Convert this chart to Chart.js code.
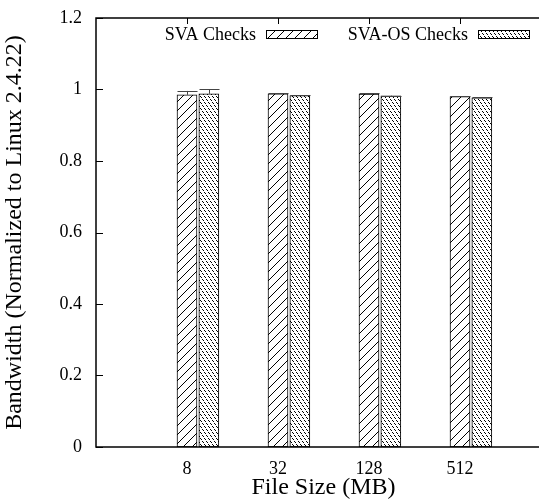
<!DOCTYPE html>
<html>
<head>
<meta charset="utf-8">
<script src="https://cdn.jsdelivr.net/npm/chart.js@4"></script>
<style>
  html, body { margin: 0; padding: 0; background: #fff; overflow: hidden; }
  #wrap { width: 560px; height: 502px; }
</style>
</head>
<body>
<div id="wrap"><canvas id="myChart" width="560" height="502"></canvas></div>
<script>
// data
var sizes = ['8', '32', '128', '512'];
var svaChecks = [0.985, 0.988, 0.987, 0.980];
var svaChecksErr = [0.011, 0.002, 0.002, 0.001];
var svaOsChecks = [0.988, 0.983, 0.982, 0.977];
var svaOsChecksErr = [0.012, 0.001, 0.001, 0.001];
var yTicks = [0, 0.2, 0.4, 0.6, 0.8, 1, 1.2];

var FONT = '"Liberation Serif", "DejaVu Serif", serif';

function hatch() {
    var c = document.createElement('canvas');
    c.width = 9; c.height = 9;
    var g = c.getContext('2d');
    g.fillStyle = '#fff';
    g.fillRect(0, 0, 9, 9);
    g.strokeStyle = '#000';
    g.lineWidth = 1;
    g.beginPath();
    g.moveTo(-1, 10); g.lineTo(10, -1);
    g.moveTo(-1, 1); g.lineTo(1, -1);
    g.moveTo(8, 10); g.lineTo(10, 8);
    g.stroke();
    return g.createPattern(c, 'repeat');
}

function dots() {
    var c = document.createElement('canvas');
    c.width = 4; c.height = 6;
    var g = c.getContext('2d');
    g.fillStyle = '#fff';
    g.fillRect(0, 0, 4, 6);
    g.fillStyle = '#000';
    g.fillRect(0, 0, 1, 1);
    g.fillRect(1, 1, 1, 1);
    g.fillRect(2, 3, 1, 1);
    g.fillRect(3, 4, 1, 1);
    return g.createPattern(c, 'repeat');
}

var pat1 = hatch();
var pat2 = dots();

function pts(vals, off) {
    return vals.map(function(v, i) { return { x: i + off, y: v }; });
}

var frame = {
    id: 'frame',
    afterDraw: function(chart) {
        var ctx = chart.ctx, a = chart.chartArea;
        var xs = chart.scales.x, ys = chart.scales.y;
        ctx.save();
        ctx.strokeStyle = '#000';
        ctx.lineWidth = 1.5;
        ctx.strokeRect(a.left, a.top, a.right - a.left, a.bottom - a.top);
        ctx.lineWidth = 1;
        // inward ticks
        ctx.beginPath();
        yTicks.forEach(function(t) {
            var y = Math.round(ys.getPixelForValue(t)) + 0.5;
            ctx.moveTo(a.left, y); ctx.lineTo(a.left + 7, y);
        });
        sizes.forEach(function(s, i) {
            var x = Math.round(xs.getPixelForValue(i)) + 0.5;
            ctx.moveTo(x, a.top); ctx.lineTo(x, a.top + 6);
        });
        ctx.stroke();

        // error bars
        ctx.strokeStyle = '#444';
        [[0, svaChecksErr], [1, svaOsChecksErr]].forEach(function(p) {
            var meta = chart.getDatasetMeta(p[0]);
            meta.data.forEach(function(bar, i) {
                var v = chart.data.datasets[p[0]].data[i].y;
                var yt = ys.getPixelForValue(v + p[1][i]);
                var x = Math.round(bar.x) + 0.5;
                ctx.beginPath();
                ctx.moveTo(x, bar.y); ctx.lineTo(x, yt);
                ctx.moveTo(x - 10, Math.round(yt) + 0.5); ctx.lineTo(x + 10, Math.round(yt) + 0.5);
                ctx.stroke();
            });
        });

        // key
        ctx.font = '18px ' + FONT;
        ctx.textAlign = 'right';
        ctx.textBaseline = 'middle';
        var keys = [['SVA Checks', pat1, 266], ['SVA-OS Checks', pat2, 478]];
        keys.forEach(function(k) {
            ctx.fillStyle = '#000';
            ctx.fillText(k[0], k[2] - 10, 35);
            ctx.fillStyle = k[1];
            ctx.fillRect(k[2], 30, 51, 8);
            ctx.strokeStyle = '#000';
            ctx.strokeRect(k[2] + 0.5, 30.5, 51, 8);
        });
        ctx.restore();
    }
};

var ctx = document.getElementById('myChart').getContext('2d');

new Chart(ctx, {
    type: 'bar',
    data: {
        datasets: [{
            label: 'SVA Checks',
            data: pts(svaChecks, 0),
            backgroundColor: pat1,
            borderColor: '#000',
            borderWidth: 1,
            borderSkipped: false,
            barThickness: 20
        }, {
            label: 'SVA-OS Checks',
            data: pts(svaOsChecks, 0.24),
            backgroundColor: pat2,
            borderColor: '#000',
            borderWidth: 1,
            borderSkipped: false,
            barThickness: 20
        }]
    },
    options: {
        responsive: false,
        animation: false,
        grouped: false,
        layout: { padding: { top: 18, right: 9, left: 0, bottom: 0 } },
        plugins: { legend: { display: false }, tooltip: { enabled: false } },
        scales: {
            x: {
                type: 'linear',
                min: -1,
                max: 4,
                offset: false,
                grid: { display: false, offset: false },
                border: { display: false },
                afterBuildTicks: function(axis) {
                    axis.ticks = sizes.map(function(s, i) { return { value: i }; });
                },
                afterFit: function(axis) { axis.height = 55; },
                ticks: {
                    color: '#000',
                    font: { family: FONT, size: 18 },
                    padding: 3,
                    maxRotation: 0,
                    callback: function(v) { return sizes[v]; }
                },
                title: {
                    display: true,
                    text: 'File Size (MB)',
                    color: '#000',
                    font: { family: FONT, size: 24 },
                    padding: { top: 0, bottom: 0 }
                }
            },
            y: {
                min: 0,
                max: 1.2,
                grid: { display: false },
                border: { display: false },
                afterBuildTicks: function(axis) {
                    axis.ticks = yTicks.map(function(v) { return { value: v }; });
                },
                afterFit: function(axis) { axis.width = 96; },
                ticks: {
                    color: '#000',
                    font: { family: FONT, size: 18 },
                    padding: 6,
                    callback: function(v) { return String(+v.toFixed(1)); }
                },
                title: {
                    display: true,
                    text: 'Bandwidth (Normalized to Linux 2.4.22)',
                    color: '#000',
                    font: { family: FONT, size: 24 },
                    padding: { top: 0, bottom: 2 }
                }
            }
        }
    },
    plugins: [frame]
});
</script>
</body>
</html>
